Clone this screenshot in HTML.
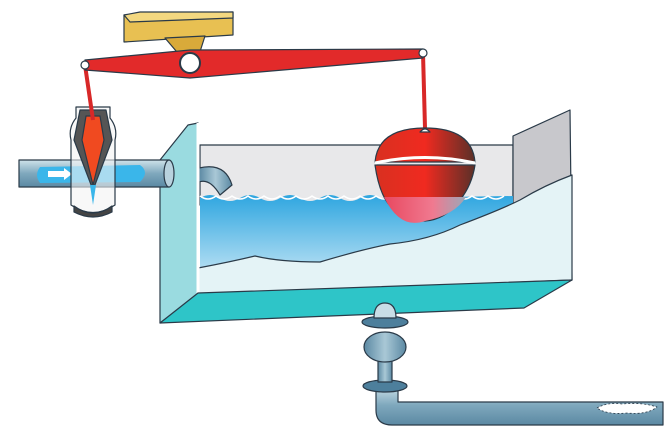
<!DOCTYPE html><html><head><style>html,body{margin:0;padding:0;background:#fff}svg{display:block}</style></head><body>
<svg width="670" height="447" viewBox="0 0 670 447" xmlns="http://www.w3.org/2000/svg">
<defs>
<linearGradient id="pipe" x1="0" y1="0" x2="0" y2="1"><stop offset="0" stop-color="#cfe3ea"/><stop offset="0.5" stop-color="#7fa8bd"/><stop offset="1" stop-color="#5b89a3"/></linearGradient>
<linearGradient id="pipev" x1="0" y1="0" x2="1" y2="0"><stop offset="0" stop-color="#5b89a3"/><stop offset="0.5" stop-color="#a9c8d6"/><stop offset="1" stop-color="#5b89a3"/></linearGradient>
<linearGradient id="water" x1="0" y1="0" x2="0" y2="1"><stop offset="0" stop-color="#2fa6e0"/><stop offset="1" stop-color="#e6f4fa"/></linearGradient>
<linearGradient id="float" x1="0" y1="0" x2="1" y2="0"><stop offset="0" stop-color="#d83020"/><stop offset="0.5" stop-color="#f02a20"/><stop offset="1" stop-color="#5a3028"/></linearGradient>
<linearGradient id="floatb" x1="0" y1="0" x2="1" y2="0"><stop offset="0" stop-color="#e84860"/><stop offset="0.6" stop-color="#f07a90"/><stop offset="1" stop-color="#9aa8b8"/></linearGradient>
</defs>
<g stroke="#2a3a48" stroke-width="1.2" stroke-linejoin="round">
<!-- back wall -->
<polygon points="200,145 513,145 513,205 200,205" fill="#e8e8ea"/>
<!-- right wall -->
<polygon points="513,136 570,110 572,280 513,300" fill="#c8c8cc"/>
<!-- water -->
<path d="M200,198 Q210,192 220,198 T240,198 T260,198 T280,198 T300,198 T320,198 T340,198 T360,198 T380,198 L513,196 L513,200 L513,300 L200,300 Z" fill="url(#water)" stroke="none"/>
<path d="M200,196 q8,6 16,0 q8,6 16,0 q8,6 16,0 q8,6 16,0 q8,6 16,0 q8,6 16,0 q8,6 16,0 q8,6 16,0 q8,6 16,0 q8,6 16,0 q8,6 16,0 q8,6 16,0 q8,6 16,0 q8,6 16,0 q8,6 16,0 q8,6 16,0 q8,6 16,0 q8,6 16,0 q8,6 16,0" fill="none" stroke="#fff" stroke-width="1.5"/>
<!-- light water front -->
<path d="M198,268 Q230,262 255,256 Q280,262 320,262 Q360,250 390,244 Q430,240 460,225 Q500,210 520,200 Q545,185 572,175 L572,280 L198,295 Z" fill="#e4f3f6" stroke="#2a3a48"/>
<!-- inlet elbow inside -->
<path d="M199,168 Q225,162 232,185 L220,195 Q210,178 199,182 Z" fill="url(#pipev)"/>
<!-- left panel -->
<polygon points="160,160 188,125 198,123 198,295 160,323" fill="#9adbe0"/>
<line x1="198" y1="123" x2="198" y2="295" stroke="#fff" stroke-width="3"/>
<!-- bottom face -->
<polygon points="160,323 198,293 572,280 524,308" fill="#2ec5c8"/>
<!-- inlet pipe -->
<rect x="19" y="160" width="150" height="27" fill="url(#pipe)"/>
<ellipse cx="169" cy="173.5" rx="5" ry="13.5" fill="#b8d2de"/>
<path d="M40,167 L140,165 Q150,172 140,182 L40,183 Q34,175 40,167Z" fill="#3ab6ea" stroke="none"/>
<path d="M48,171 h16 v-3 l8,6 -8,6 v-3 h-16z" fill="#fff" stroke="none"/>
<!-- valve housing -->
<path d="M76,107 L110,107 L110,118 Q118,128 115,140 L115,205 Q93,220 71,205 L71,140 Q68,128 76,118Z" fill="#f4f4f4" fill-opacity="0.6"/>
<path d="M74,206 Q93,220 112,206 L112,212 Q93,222 74,212Z" fill="#444"/>
<path d="M80,110 L106,110 L112,140 L93,190 L74,140Z" fill="#555"/>
<path d="M86,116 L100,116 L104,140 L93,185 L82,140Z" fill="#f04a20"/>
<path d="M90,185 L96,185 L93,205Z" fill="#3ab6ea" stroke="none"/>
<!-- rods -->
<line x1="85" y1="65" x2="93" y2="120" stroke="#d82828" stroke-width="4"/>
<line x1="423" y1="53" x2="425" y2="128" stroke="#d82828" stroke-width="4"/>
<!-- bracket -->
<polygon points="124,15 233,12 233,35 124,42" fill="#e8c052"/>
<polygon points="124,15 140,12 233,12 233,18 130,22" fill="#f3d880"/>
<polygon points="165,38 205,36 198,58 182,58" fill="#d9aa3a"/>
<!-- lever -->
<path d="M85,60 L190,50 L423,49 L423,58 L190,78 L85,70Z" fill="#e22a2a"/>
<circle cx="190" cy="63" r="10" fill="#fff" stroke-width="2"/>
<circle cx="85" cy="65" r="4" fill="#fff"/>
<circle cx="423" cy="53" r="4" fill="#fff"/>
<!-- float -->
<path d="M375,162 Q378,128 425,128 Q472,128 475,162Z" fill="url(#float)"/>
<path d="M375,165 Q380,200 395,210 Q410,222 425,221 Q445,220 460,200 Q472,185 475,165Z" fill="url(#float)"/>
<path d="M384,197 Q400,230 425,221 Q455,215 466,197Z" fill="url(#floatb)" stroke="none"/>
<path d="M375,163 Q425,152 475,163" fill="none" stroke="#fff" stroke-width="3"/>
<path d="M420,132 q5,-6 10,0z" fill="#fff"/>
<!-- outlet -->
<path d="M376,385 L376,410 Q376,425 392,425 L663,425 L663,402 L398,402 L398,385Z" fill="url(#pipe)"/>
<path d="M597,408 q10,-6 25,-4 q20,-2 35,3 q-10,8 -30,6 q-20,2 -30,-5z" fill="#fff" stroke-dasharray="2 2" stroke-width="0.8"/>
<ellipse cx="385" cy="386" rx="22" ry="6" fill="#4d7f9c"/>
<rect x="378" y="360" width="14" height="22" fill="url(#pipev)"/>
<ellipse cx="385" cy="347" rx="21" ry="15" fill="url(#pipev)"/>
<ellipse cx="385" cy="322" rx="23" ry="6" fill="#4d7f9c"/>
<path d="M374,318 Q374,303 385,303 Q396,303 396,318Z" fill="#c8dde6"/>
</g>
</svg>
</body></html>
